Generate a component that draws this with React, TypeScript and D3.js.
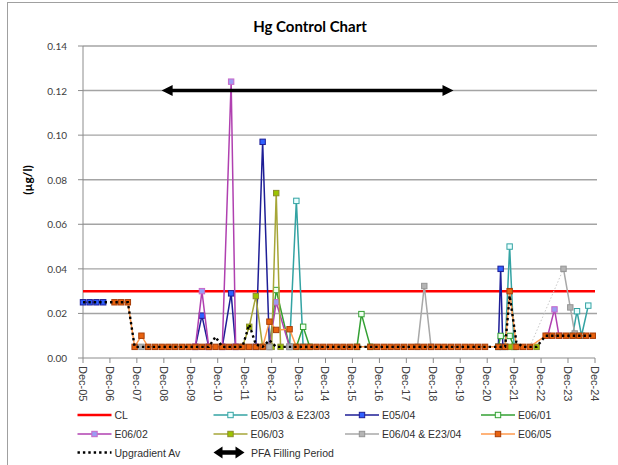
import React from 'react';
import * as d3 from 'd3';

type Pt = [string, number | null];

// ---------- DATA ----------
const xTickLabels = ["Dec-05","Dec-06","Dec-07","Dec-08","Dec-09","Dec-10","Dec-11","Dec-12","Dec-13","Dec-14","Dec-15","Dec-16","Dec-17","Dec-18","Dec-19","Dec-20","Dec-21","Dec-22","Dec-23","Dec-24"];
const yTicks = [0, 0.02, 0.04, 0.06, 0.08, 0.1, 0.12, 0.14];

const clData: Pt[] = [["2005-12", 0.03], ["2024-12", 0.03]];

const e0503: Pt[] = [
  ["2013-08", 0.005], ["2013-11", 0.0705], ["2014-02", 0.005], ["2017-01", null],
  ["2021-08", 0.005], ["2021-10", 0.050], ["2021-12", 0.005], ["2023-01", null],
  ["2024-02", 0.010], ["2024-04", 0.021], ["2024-06", 0.010], ["2024-09", 0.0235],
];

const e0504: Pt[] = [
  ["2005-12", 0.025], ["2006-03", 0.025], ["2006-06", 0.025], ["2006-09", 0.025], ["2008-01", null],
  ["2010-02", 0.005], ["2010-05", 0.019], ["2010-08", 0.005], ["2010-12", null],
  ["2011-02", 0.005], ["2011-06", 0.029], ["2011-08", 0.005], ["2012-01", null],
  ["2012-05", 0.005], ["2012-08", 0.097], ["2012-11", 0.005], ["2015-01", null],
  ["2021-05", 0.005], ["2021-06", 0.040], ["2021-07", 0.005],
];

const e0601: Pt[] = [
  ["2012-11", 0.005], ["2013-02", 0.0305], ["2013-08", 0.005], ["2013-10", null],
  ["2013-11", 0.005], ["2014-02", 0.014], ["2014-05", 0.005], ["2015-01", null],
  ["2016-02", 0.005], ["2016-04", 0.0197], ["2016-08", 0.005], ["2018-01", null],
  ["2021-05", 0.005], ["2021-06", 0.0099], ["2021-10", 0.0099], ["2021-12", 0.005],
];

const e0602: Pt[] = [
  ["2010-02", 0.005], ["2010-05", 0.030], ["2010-08", 0.005], ["2010-12", null],
  ["2011-02", 0.005], ["2011-06", 0.124], ["2011-08", 0.005], ["2012-01", null],
  ["2012-11", 0.005], ["2013-02", 0.025], ["2013-08", 0.005], ["2015-01", null],
  ["2023-03", 0.010], ["2023-06", 0.0218], ["2023-08", 0.010],
];

const e0603: Pt[] = [
  ["2011-11", 0.005], ["2012-02", 0.014], ["2012-05", 0.0278], ["2012-08", 0.005], ["2012-10", null],
  ["2012-12", 0.005], ["2013-02", 0.074], ["2013-04", 0.005], ["2015-01", null],
  ["2021-10", 0.005], ["2022-01", null],
  ["2022-10", 0.005],
];

const e0604: Pt[] = [
  ["2008-02", 0.005], ["2009-01", null],
  ["2012-11", 0.005], ["2013-01", null],
  ["2013-08", 0.005], ["2015-01", null],
  ["2018-05", 0.005], ["2018-08", 0.0323], ["2018-11", 0.005], ["2020-01", null],
  ["2023-10", 0.040], ["2024-01", 0.0227], ["2024-03", 0.011],
];
const e0604Link: Pt[] = [["2022-07", 0.005], ["2023-10", 0.040]];

const e0605: Pt[] = [
  ["2007-02", 0.025], ["2007-05", 0.025], ["2007-08", 0.025], ["2007-11", 0.005],
  ["2008-02", 0.010], ["2008-05", 0.005], ["2008-08", 0.005], ["2008-11", 0.005],
  ["2009-02", 0.005], ["2009-05", 0.005], ["2009-08", 0.005], ["2009-11", 0.005],
  ["2010-02", 0.005], ["2010-05", 0.005], ["2010-08", 0.005], ["2010-11", 0.005],
  ["2011-02", 0.005], ["2011-05", 0.005], ["2011-08", 0.005], ["2011-11", 0.005],
  ["2012-02", 0.005], ["2012-05", 0.005], ["2012-08", 0.005], ["2012-11", 0.0163],
  ["2013-02", 0.0126], ["2013-08", 0.0129], ["2013-11", 0.005],
  ["2014-02", 0.005], ["2014-05", 0.005], ["2014-08", 0.005], ["2014-11", 0.005],
  ["2015-02", 0.005], ["2015-05", 0.005], ["2015-08", 0.005], ["2015-11", 0.005],
  ["2016-02", 0.005], ["2016-08", 0.005], ["2016-11", 0.005],
  ["2017-02", 0.005], ["2017-05", 0.005], ["2017-08", 0.005], ["2017-11", 0.005],
  ["2018-02", 0.005], ["2018-05", 0.005], ["2018-08", 0.005], ["2018-11", 0.005],
  ["2019-02", 0.005], ["2019-05", 0.005], ["2019-08", 0.005], ["2019-11", 0.005],
  ["2020-02", 0.005], ["2020-05", 0.005], ["2020-08", 0.005], ["2020-11", 0.005],
  ["2021-05", 0.005], ["2021-08", 0.005], ["2021-10", 0.030],
  ["2022-01", 0.005], ["2022-04", 0.005], ["2022-07", 0.005],
  ["2023-02", 0.010], ["2023-05", 0.010], ["2023-08", 0.010], ["2023-11", 0.010],
  ["2024-02", 0.010], ["2024-05", 0.010], ["2024-08", 0.010], ["2024-11", 0.010],
];

const upgradient: Pt[] = [
  ["2005-12", 0.025], ["2007-08", 0.025], ["2007-11", 0.005], ["2010-08", 0.005],
  ["2010-11", 0.0095], ["2011-02", 0.005], ["2011-11", 0.005], ["2012-02", 0.015],
  ["2012-05", 0.006], ["2012-08", 0.005], ["2012-11", 0.008], ["2013-02", 0.005],
  ["2021-08", 0.005], ["2021-10", 0.028], ["2022-01", 0.007], ["2022-04", 0.005],
  ["2022-10", 0.005], ["2023-02", 0.010], ["2024-11", 0.010],
];

const pfaPeriod: Pt[] = [["2008-11", 0.12], ["2019-09", 0.12]];

const legendNames = ["CL", "E05/03 & E23/03", "E05/04", "E06/01", "E06/02", "E06/03", "E06/04 & E23/04", "E06/05", "Upgradient Av", "PFA Filling Period"];

// ---------- STYLES ----------
type St = { line: string; fill: string; stroke: string };
const ST: Record<string, St> = {
  e0503: { line: "#33A3A3", fill: "#E8FFFF", stroke: "#33A3A3" },
  e0504: { line: "#1E1E96", fill: "#3060FF", stroke: "#1E1E96" },
  e0601: { line: "#33A033", fill: "#F0FFF0", stroke: "#33A033" },
  e0602: { line: "#B040B0", fill: "#9C9CF2", stroke: "#C868C8" },
  e0603: { line: "#A6A638", fill: "#9CC400", stroke: "#8C8C2C" },
  e0604: { line: "#A8A8A8", fill: "#B4B4B4", stroke: "#959595" },
  e0605: { line: "#FF9A4C", fill: "#E8620E", stroke: "#A83E08" },
};
const MK = 5.4;

const W = 618, H = 465;
const parse = d3.timeParse("%Y-%m");
const parseTick = d3.timeParse("%b-%y");
const x = d3.scaleTime().domain([new Date(2005, 11, 1), new Date(2024, 11, 1)]).range([83, 595]);
const y = d3.scaleLinear().domain([0, 0.14]).range([358, 46]);

const FONT_AX = "'Liberation Sans', Arial, sans-serif";
const FONT_CAL = "Lato, 'Open Sans', sans-serif";

function toPts(data: Pt[]) {
  return data.map(([d, v]) => ({ x: x(parse(d) as Date), v }));
}

function Series({ data, st }: { data: Pt[]; st: St }) {
  const pts = toPts(data);
  const line = d3.line<{ x: number; v: number | null }>()
    .defined(p => p.v != null)
    .x(p => p.x)
    .y(p => y(p.v as number));
  return (
    <g>
      <path d={line(pts) || ""} fill="none" stroke={st.line} strokeWidth={1.5} />
      {pts.filter(p => p.v != null).map((p, i) => (
        <rect key={i} x={p.x - MK / 2} y={y(p.v as number) - MK / 2} width={MK} height={MK}
          fill={st.fill} stroke={st.stroke} strokeWidth={1} />
      ))}
    </g>
  );
}

function DoubleArrow({ x1, x2, yy, w, hl, hw }: { x1: number; x2: number; yy: number; w: number; hl: number; hw: number }) {
  return (
    <g>
      <line x1={x1 + hl - 1} x2={x2 - hl + 1} y1={yy} y2={yy} stroke="#000" strokeWidth={w} />
      <path d={`M${x1},${yy} L${x1 + hl},${yy - hw} L${x1 + hl},${yy + hw} Z`} fill="#000" />
      <path d={`M${x2},${yy} L${x2 - hl},${yy - hw} L${x2 - hl},${yy + hw} Z`} fill="#000" />
    </g>
  );
}

export default function App() {
  const lineGen = d3.line<{ x: number; v: number | null }>()
    .defined(p => p.v != null).x(p => p.x).y(p => y(p.v as number));
  const pfa = toPts(pfaPeriod);

  const cols = [77.5, 213.5, 345, 481];
  const rows = [415, 434, 452.5];
  const legendStyle: string[] = ["cl", "e0503", "e0504", "e0601", "e0602", "e0603", "e0604", "e0605", "upg", "pfa"];

  return (
    <svg width={W} height={H} style={{ position: 'absolute', left: 0, top: 0, background: '#fff' }}>
      <rect x={0} y={0} width={W} height={H} fill="#fff" />
      <rect x={7.5} y={2.5} width={800} height={600} fill="none" stroke="#A0A0A0" strokeWidth={1} />

      {/* title */}
      <text x={310} y={31.5} textAnchor="middle" fontFamily={FONT_CAL} fontWeight="bold" fontSize={15} fill="#000">Hg Control Chart</text>

      {/* y axis title */}
      <text transform="translate(27,180) rotate(-90)" textAnchor="middle" dominantBaseline="central"
        fontFamily={FONT_CAL} fontWeight="bold" fontSize={12} fill="#000">(µg/l)</text>

      {/* gridlines */}
      {yTicks.filter(t => t > 0).map(t => (
        <line key={t} x1={83} x2={597} y1={y(t)} y2={y(t)} stroke="#A4A4A4" strokeWidth={1.4} />
      ))}

      {/* y axis */}
      <line x1={83} x2={83} y1={46} y2={358} stroke="#8C8C8C" strokeWidth={1} />
      {yTicks.map(t => (
        <g key={t}>
          <line x1={78} x2={83} y1={y(t)} y2={y(t)} stroke="#8C8C8C" strokeWidth={1} />
          <text x={67} y={y(t)} textAnchor="end" dominantBaseline="central" fontFamily={FONT_CAL} fontSize={10} fill="#404040">{d3.format(".2f")(t)}</text>
        </g>
      ))}

      {/* x axis */}
      <line x1={83} x2={595} y1={358} y2={358} stroke="#8C8C8C" strokeWidth={1} />
      {xTickLabels.map(lbl => {
        const xx = x(parseTick(lbl) as Date);
        return (
          <g key={lbl}>
            <line x1={xx} x2={xx} y1={358} y2={363} stroke="#8C8C8C" strokeWidth={1} />
            <text transform={`translate(${xx},366) rotate(90)`} textAnchor="start" dominantBaseline="central"
              fontFamily={FONT_AX} fontSize={11} fill="#404040">{lbl}</text>
          </g>
        );
      })}

      {/* CL */}
      <path d={lineGen(toPts(clData)) || ""} fill="none" stroke="#FF0000" strokeWidth={2.5} />

      {/* series */}
      <Series data={e0503} st={ST.e0503} />
      <Series data={e0504} st={ST.e0504} />
      <Series data={e0601} st={ST.e0601} />
      <Series data={e0602} st={ST.e0602} />
      <Series data={e0603} st={ST.e0603} />
      <path d={lineGen(toPts(e0604Link)) || ""} fill="none" stroke="#C8C8C8" strokeWidth={1} strokeDasharray="1.5 2" />
      <Series data={e0604} st={ST.e0604} />
      <Series data={e0605} st={ST.e0605} />

      {/* upgradient */}
      <path d={lineGen(toPts(upgradient)) || ""} fill="none" stroke="#000" strokeWidth={2.4} strokeDasharray="2.4 3" />

      {/* PFA arrow */}
      <DoubleArrow x1={pfa[0].x} x2={pfa[1].x} yy={y(0.12)} w={3.5} hl={11} hw={5.5} />

      {/* legend */}
      {legendNames.map((name, i) => {
        const cx = cols[i % 4];
        const cy = rows[Math.floor(i / 4)];
        const key = legendStyle[i];
        let sym: React.ReactNode = null;
        if (key === "cl") {
          sym = <line x1={cx} x2={cx + 34} y1={cy} y2={cy} stroke="#FF0000" strokeWidth={2.5} />;
        } else if (key === "upg") {
          sym = <line x1={cx} x2={cx + 34} y1={cy} y2={cy} stroke="#000" strokeWidth={2.4} strokeDasharray="2.4 3" />;
        } else if (key === "pfa") {
          sym = <DoubleArrow x1={cx} x2={cx + 31} yy={cy} w={4.5} hl={9} hw={6} />;
        } else {
          const st = ST[key];
          sym = (
            <g>
              <line x1={cx} x2={cx + 34} y1={cy} y2={cy} stroke={st.line} strokeWidth={1.5} />
              <rect x={cx + 17 - MK / 2} y={cy - MK / 2} width={MK} height={MK} fill={st.fill} stroke={st.stroke} strokeWidth={1} />
            </g>
          );
        }
        return (
          <g key={name}>
            {sym}
            <text x={cx + (key === "pfa" ? 37.5 : 37)} y={cy} dominantBaseline="central" fontFamily={FONT_AX} fontSize={10.5} fill="#303030">{name}</text>
          </g>
        );
      })}
    </svg>
  );
}
